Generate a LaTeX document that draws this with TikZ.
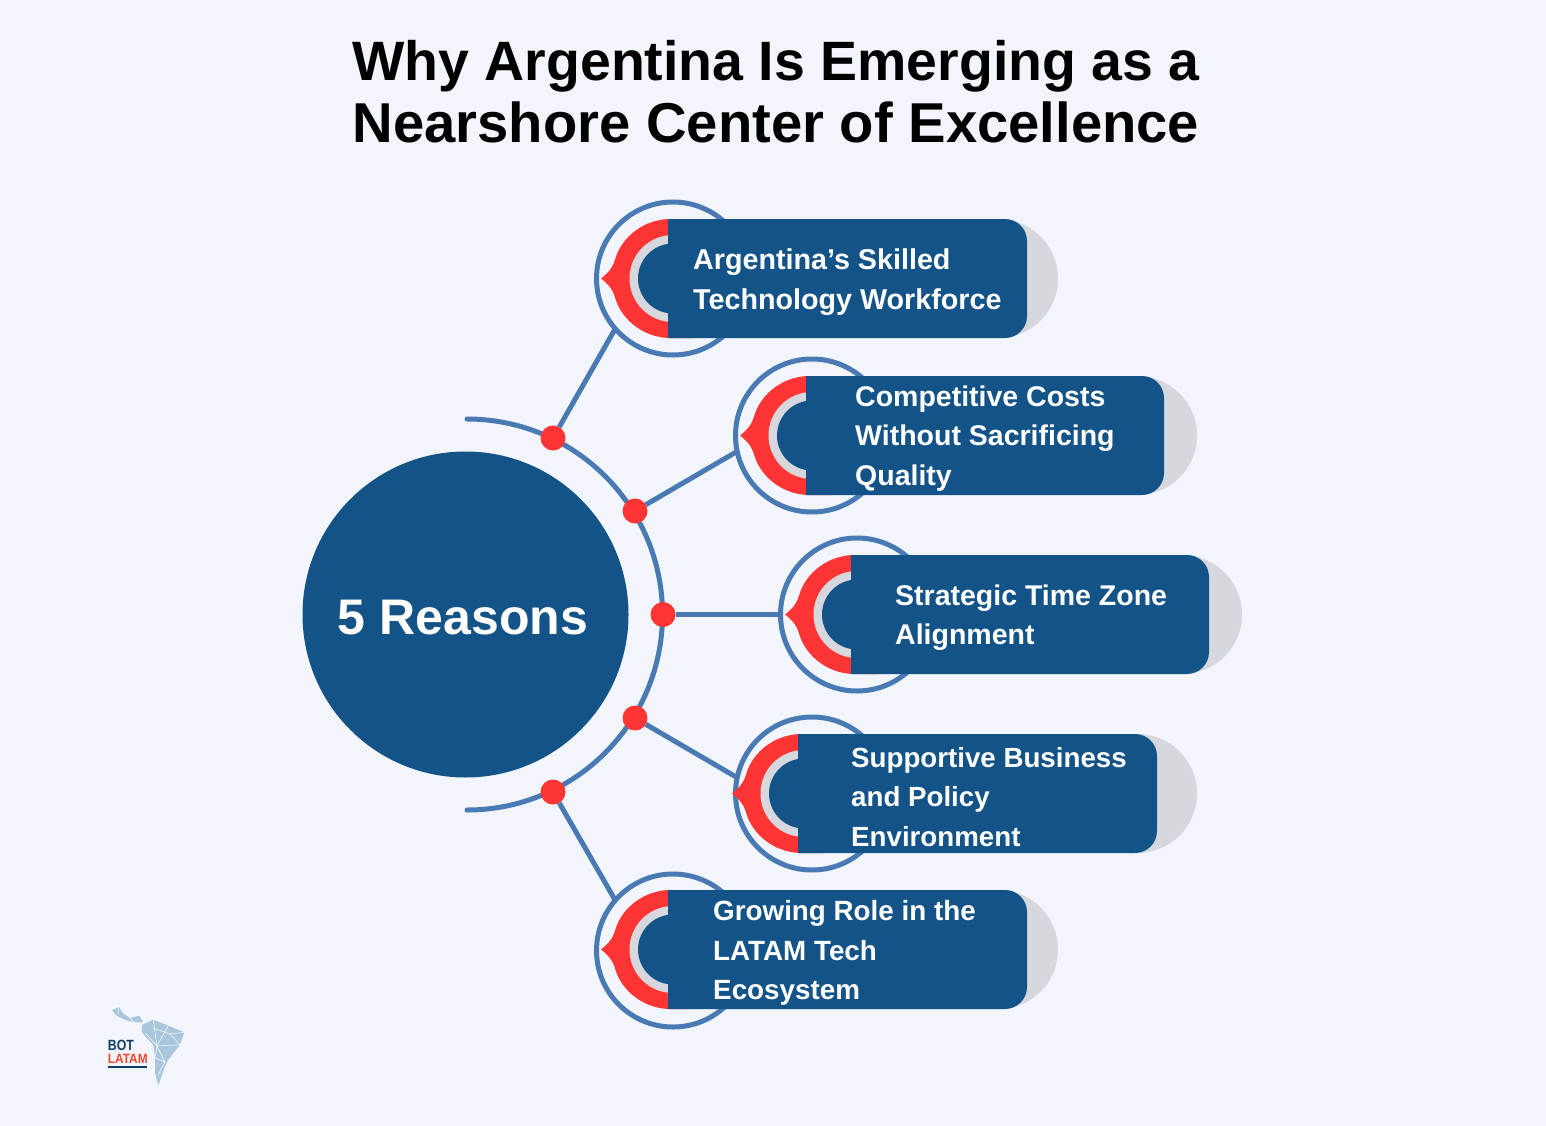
\documentclass[tikz,border=0pt]{standalone}
\usepackage{fontspec}
\setmainfont{Liberation Sans}
\definecolor{pagebg}{HTML}{F2F5FC}
\definecolor{navy}{HTML}{135388}
\definecolor{linkblue}{HTML}{4A7AB3}
\definecolor{hotred}{HTML}{FF3535}
\definecolor{softgrey}{HTML}{D6D8DE}
\definecolor{mapblue}{HTML}{A9C6DC}
\definecolor{logonavy}{HTML}{123C68}
\definecolor{logored}{HTML}{F0462A}
\tikzset{
  x=1pt, y=1pt,
  hub/.style={circle,fill=navy,minimum size=326pt,inner sep=0pt},
  joint/.style={circle,fill=hotred,minimum size=25pt,inner sep=0pt,outer sep=0pt},
  halo/.style={circle,draw=linkblue,line width=5pt,minimum size=153pt,inner sep=0pt,outer sep=0pt},
  backdisc/.style={circle,fill=softgrey,minimum size=119pt,inner sep=0pt},
  link/.style={draw=linkblue,line width=5pt},
  bar/.style={fill=navy},
  label/.style={anchor=west,text=white,align=left,inner sep=0pt,font=\bfseries\fontsize{28.5}{39.5}\selectfont},
  badge/.pic={
    \fill[hotred] (-5,59.5) .. controls (-30,58) and (-50,42) .. (-57,22)
      .. controls (-59,17) and (-59,10) .. (-72,0)
      .. controls (-59,-10) and (-59,-17) .. (-57,-22)
      .. controls (-50,-42) and (-30,-58) .. (-5,-59.5)
      -- (20,-59.5) -- (20,59.5) -- cycle;
    \fill[softgrey] (0,0) circle (43.5);
    \fill[navy] (0,0) circle (35);
  }
}
\begin{document}
\begin{tikzpicture}
  \fill[pagebg] (0,0) rectangle (1546,-1126);
  \useasboundingbox (0,0) rectangle (1546,-1126);
  \node[anchor=center,align=center,inner sep=0pt,font=\bfseries\fontsize{56}{62}\selectfont] (title) at (776,-92) {\fontsize{55.45}{62}\selectfont Why Argentina Is Emerging as a\\\fontsize{56.2}{62}\selectfont Nearshore Center of Excellence};
  \node[hub] (hub) at (465.5,-614.5) {};
  \node[text=white,font=\bfseries\fontsize{50}{50}\selectfont] (hubtext) at (463,-618) {5 Reasons};
  \draw[link,line cap=round] (467,-419) arc (90:-90:195.5);
  \node[joint] (joint1) at (553,-438) {};
  \node[joint] (joint2) at (635,-511) {};
  \node[joint] (joint3) at (663,-614.5) {};
  \node[joint] (joint4) at (635,-718) {};
  \node[joint] (joint5) at (553,-792) {};

  \node[backdisc] (back1) at (998.5,-278.5) {};
  \node[backdisc] (back2) at (1137.5,-435.5) {};
  \node[backdisc] (back3) at (1182.5,-614.5) {};
  \node[backdisc] (back4) at (1137.5,-793.5) {};
  \node[backdisc] (back5) at (998.5,-949.5) {};

  \node[halo] (halo1) at (673,-278.5) {};
  \node[halo] (halo2) at (812,-435.5) {};
  \node[halo] (halo3) at (857,-614.5) {};
  \node[halo] (halo4) at (812,-793.5) {};
  \node[halo] (halo5) at (673,-950.5) {};

  \draw[link] (joint1) -- (halo1.221);
  \draw[link] (joint2) -- (halo2.192);
  \draw[link] (joint3) -- (halo3.180);
  \draw[link] (joint4) -- (halo4.168);
  \draw[link] (joint5) -- (halo5.139);

  \pic at (673,-278.5) {badge};
  \pic at (812,-435.5) {badge};
  \pic at (857,-614.5) {badge};
  \pic at (804,-793.5) {badge};
  \pic at (673,-949.5) {badge};

  \fill[bar] (668,-219) [rounded corners=22pt] -- (1027,-219) -- (1027,-338) [sharp corners] -- (668,-338) -- cycle;
  \fill[bar] (806,-376) [rounded corners=22pt] -- (1164,-376) -- (1164,-495) [sharp corners] -- (806,-495) -- cycle;
  \fill[bar] (851,-555) [rounded corners=22pt] -- (1209,-555) -- (1209,-674) [sharp corners] -- (851,-674) -- cycle;
  \fill[bar] (798,-734) [rounded corners=22pt] -- (1157,-734) -- (1157,-853) [sharp corners] -- (798,-853) -- cycle;
  \fill[bar] (668,-890) [rounded corners=22pt] -- (1027,-890) -- (1027,-1009) [sharp corners] -- (668,-1009) -- cycle;

  \node[label,font=\bfseries\fontsize{28.7}{39.5}\selectfont] (reason1) at (693,-282) {Argentina’s Skilled\\Technology Workforce};
  \node[label] (reason2) at (855,-438.5) {Competitive Costs\\Without Sacrificing\\Quality};
  \node[label] (reason3) at (895,-617.5) {Strategic Time Zone\\Alignment};
  \node[label,font=\bfseries\fontsize{27.7}{39.5}\selectfont] (reason4) at (851,-797) {Supportive Business\\and Policy\\Environment};
  \node[label,font=\bfseries\fontsize{27.8}{39.5}\selectfont] (reason5) at (713,-953) {Growing Role in the\\LATAM Tech\\Ecosystem};

  \fill[mapblue] (112.3,-1010.3) -- (119,-1007) -- (123.3,-1013.7) -- (130,-1018) -- (139.3,-1015.7) -- (142.7,-1021.3) -- (142.3,-1022.3) -- (136.7,-1022.3) -- (130,-1021.3) -- (123.3,-1019) -- (116.7,-1015.7) -- cycle;
  \fill[mapblue] (142.3,-1024.7) -- (153.3,-1019.7) -- (168.3,-1025.7) -- (184.3,-1032.3) -- (180,-1044.7) -- (168.3,-1059.7) -- (164.3,-1068) -- (158.3,-1085.7) -- (155,-1073) -- (155,-1058) -- (153.3,-1044.7) -- (145,-1036.3) -- (141.7,-1031.3) -- cycle;
  \draw[white,line width=0.5pt] (153.3,-1019.7) -- (157,-1046) -- (168.3,-1025.7) (145,-1033) -- (157,-1046) -- (180,-1044.7) (157,-1046) -- (165,-1062) -- (158,-1075) (157,-1046) -- (155,-1058) -- (165,-1062) (153,-1028) -- (170,-1034) -- (184.3,-1032.3) (170,-1034) -- (180,-1044.7) (119,-1007) -- (118,-1014) (130,-1018) -- (134,-1022);
  \node[anchor=west,inner sep=0pt,text=logonavy,font=\bfseries\fontsize{14.8}{15}\selectfont] (logobot) at (107.7,-1045) {\scalebox{0.83}[1]{BOT}};
  \node[anchor=west,inner sep=0pt,text=logored,font=\bfseries\fontsize{13.5}{14}\selectfont] (logolatam) at (107.7,-1058.5) {\scalebox{0.88}[1]{LATAM}};
  \draw[logonavy,line width=2pt] (107.7,-1066.7) -- (147.3,-1066.7);
\end{tikzpicture}
\end{document}
